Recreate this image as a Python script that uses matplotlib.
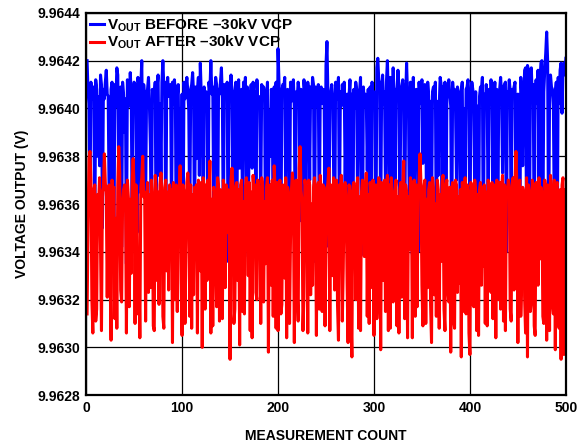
import numpy as np
import matplotlib
matplotlib.use('Agg')
import matplotlib.pyplot as plt

plt.rcParams['font.family'] = ['Liberation Sans', 'DejaVu Sans']
plt.rcParams['font.weight'] = 'bold'
plt.rcParams['mathtext.fontset'] = 'custom'
plt.rcParams['mathtext.rm'] = 'Liberation Sans:bold'
plt.rcParams['mathtext.bf'] = 'Liberation Sans:bold'

# readings, in units of 10 uV above 9.9628 V
base = 9.9628
blue_raw = [
    140,127,122,76,131,124,126,129,62,132,128,100,125,96,134,130,70,128,124,131,
    136,126,125,82,75,128,131,90,64,130,121,137,134,90,127,129,62,131,126,110,
    124,55,132,127,121,135,126,72,128,131,130,118,68,133,127,85,129,140,98,130,
    124,80,126,128,133,121,104,62,128,124,125,131,59,129,134,92,122,88,131,140,
    129,131,60,127,133,125,128,130,74,131,122,132,127,57,125,130,82,120,85,126,
    63,131,124,129,133,127,119,70,128,130,135,126,62,129,99,127,133,92,139,126,
    121,65,129,124,127,120,58,131,127,140,126,129,76,125,133,130,61,128,126,131,
    137,124,67,130,128,125,131,56,129,126,134,127,84,124,127,131,60,129,132,95,
    126,128,71,131,124,133,80,129,58,127,121,130,95,131,123,127,64,132,122,125,
    120,78,130,124,129,127,62,122,131,83,119,100,128,126,57,129,124,131,69,145,
    131,122,60,127,130,129,133,81,121,128,125,65,131,123,127,132,120,59,127,124,
    131,127,73,128,124,57,132,126,61,123,131,128,90,129,121,133,130,56,129,127,
    121,130,68,125,129,122,128,126,80,138,148,126,62,123,127,130,125,91,58,131,
    124,128,133,70,127,121,130,124,131,87,122,126,63,125,132,76,126,60,128,120,
    131,128,75,122,127,133,84,59,129,121,126,124,94,128,57,129,64,131,123,127,
    121,57,137,141,132,130,69,128,134,122,127,86,131,140,124,62,133,58,121,137,
    125,61,128,127,136,129,74,124,129,132,126,58,123,139,126,121,67,131,124,59,
    133,83,121,128,125,60,131,122,127,132,97,124,130,121,63,131,125,86,123,72,
    127,129,125,131,59,123,92,121,133,130,78,129,120,131,64,124,127,132,126,121,
    57,131,124,128,120,90,129,127,122,61,127,131,82,120,70,128,129,132,125,60,
    124,131,128,122,84,127,59,121,62,125,129,127,133,58,126,120,130,124,75,128,
    122,132,126,64,124,131,89,128,59,126,128,133,125,93,129,130,131,60,127,123,
    132,127,66,128,126,129,131,81,124,126,122,57,133,126,96,121,136,137,74,138,
    136,63,127,137,124,130,60,125,132,122,136,88,131,139,140,68,127,136,143,152,
    140,61,124,134,129,128,120,72,126,131,62,133,122,136,139,118,137,139,134,141,
]
red_raw = [
    34,72,99,102,90,40,26,86,88,31,36,84,79,91,62,27,85,87,101,89,
    83,41,86,88,50,23,90,85,87,32,74,28,88,104,93,44,39,80,86,88,
    84,26,90,83,37,82,51,89,99,86,30,88,82,34,56,24,87,91,100,83,
    85,31,80,89,43,84,45,90,83,29,27,92,86,48,85,38,88,93,84,33,
    28,87,90,52,85,44,88,81,86,22,89,40,84,88,35,87,83,96,47,25,
    88,85,30,60,89,93,86,33,88,28,84,42,87,81,88,26,90,86,52,89,
    20,91,87,36,88,48,90,83,98,26,82,29,87,85,54,37,91,88,31,86,
    78,32,90,85,45,88,68,86,84,15,90,95,88,30,36,87,89,48,86,21,
    88,90,35,81,34,87,91,84,50,89,27,85,24,92,85,88,43,40,90,84,
    87,30,91,88,39,81,55,87,91,18,86,88,46,90,33,96,85,28,89,27,
    86,90,34,38,88,85,49,91,24,87,84,30,65,86,93,86,22,88,90,44,
    31,95,104,86,81,27,41,90,87,85,26,90,88,42,80,46,87,91,83,25,
    86,89,36,92,85,35,88,87,29,62,86,89,95,27,88,85,50,91,44,87,
    90,38,23,88,84,92,31,53,87,89,82,47,22,88,85,35,16,87,89,84,
    40,86,91,28,83,27,85,90,87,58,86,93,33,84,30,89,84,45,90,25,
    86,88,32,42,91,85,19,89,86,48,90,35,86,92,27,88,28,91,85,39,
    49,85,90,29,83,26,86,89,41,87,98,32,88,85,24,83,61,91,87,24,
    86,90,33,88,37,85,89,101,88,46,29,87,90,30,82,45,86,89,38,22,
    91,87,42,80,33,90,86,28,84,56,89,92,36,27,88,90,44,39,87,18,
    86,89,31,28,90,88,43,83,47,86,16,89,87,35,91,34,88,85,26,17,
    89,86,38,37,90,85,27,84,25,86,89,46,87,54,88,30,85,29,90,87,
    84,43,89,32,88,82,24,90,87,40,89,36,86,92,31,88,27,87,85,90,
    88,36,31,86,91,44,89,102,86,22,88,90,33,48,87,85,41,26,91,16,
    88,85,35,39,90,87,29,25,89,86,46,91,57,87,85,33,30,90,86,23,
    88,84,27,92,86,38,34,90,19,87,89,31,28,86,15,88,91,17,86,84,
]
x_ticks = [0, 100, 200, 300, 400, 500]
y_ticks = [9.9628, 9.9630, 9.9632, 9.9634, 9.9636, 9.9638, 9.9640, 9.9642, 9.9644]

blue = base + np.array(blue_raw) * 1e-5
red = base + np.array(red_raw) * 1e-5
count = np.arange(1, len(blue_raw) + 1)

fig = plt.figure(figsize=(5.78, 4.44), dpi=100)
ax = fig.add_axes([0.149, 0.110, 0.830, 0.861])

ax.plot(count, blue, color='#0000ff', lw=2.2,
        label='$\\mathbf{V_{OUT}}$ BEFORE \u201330kV VCP')
ax.plot(count, red, color='#ff0000', lw=2.2,
        label='$\\mathbf{V_{OUT}}$ AFTER \u201330kV VCP')

ax.set_xlim(0, 500)
ax.set_ylim(9.9628, 9.9644)
ax.set_xticks(x_ticks)
ax.set_yticks(y_ticks)
ax.set_yticklabels(['%.4f' % v for v in y_ticks])
ax.tick_params(length=0, labelsize=10, pad=4)
for lab in ax.get_xticklabels() + ax.get_yticklabels():
    lab.set_fontweight('bold')
ax.grid(True, color='black', lw=0.9)
for s in ax.spines.values():
    s.set_linewidth(1.6)

ax.set_xlabel('MEASUREMENT COUNT', fontsize=10, fontweight='bold', labelpad=10)
ax.set_ylabel('VOLTAGE OUTPUT (V)', fontsize=10, fontweight='bold', labelpad=6)

leg = ax.legend(loc='upper left', frameon=False, fontsize=11, handlelength=0.9,
                handletextpad=0.2, borderaxespad=0.1, labelspacing=0.0,
                borderpad=0.15)

fig.savefig('out.png', dpi=100)
